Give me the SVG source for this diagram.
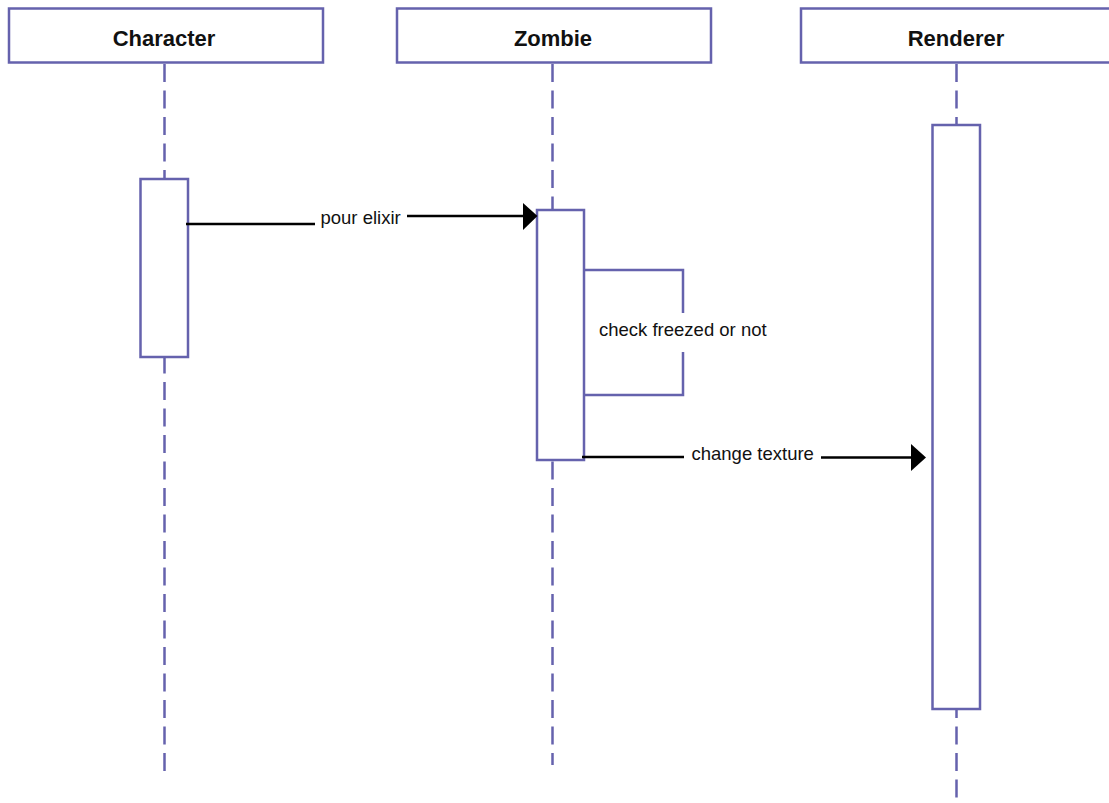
<svg xmlns="http://www.w3.org/2000/svg" width="1109" height="803" viewBox="0 0 1109 803">
  <style>
    .head { fill: #ffffff; stroke: #6562ad; stroke-width: 2.5; }
    .life { fill: none; stroke: #6562ad; stroke-width: 2.5; stroke-dasharray: 18 8.5; }
    .act { fill: #ffffff; stroke: #6562ad; stroke-width: 2.5; }
    .self { fill: none; stroke: #6562ad; stroke-width: 2.5; }
    .msg { fill: none; stroke: #000000; stroke-width: 2.5; }
    .tip { fill: #000000; }
    .title { font-family: "Liberation Sans", Arial, sans-serif; font-weight: bold; font-size: 22px; fill: #111111; text-anchor: middle; }
    .label { font-family: "Liberation Sans", Arial, sans-serif; font-size: 18.5px; fill: #111111; }
  </style>
  <rect width="1109" height="803" fill="#ffffff"/>

  <!-- lifelines -->
  <g id="lifelines">
    <line class="life" x1="164.5" y1="64" x2="164.5" y2="777"/>
    <line class="life" x1="552.5" y1="64" x2="552.5" y2="765"/>
    <line class="life" x1="956.5" y1="64" x2="956.5" y2="803"/>
  </g>

  <!-- participants -->
  <g id="character">
    <rect class="head" x="9" y="8.5" width="314" height="54"/>
    <text class="title" x="164" y="46">Character</text>
    <rect class="act" x="140.5" y="179" width="47.5" height="178"/>
  </g>
  <g id="zombie">
    <rect class="head" x="397" y="8.5" width="314" height="54"/>
    <text class="title" x="553" y="46">Zombie</text>
    <rect class="act" x="537" y="210" width="47" height="250"/>
  </g>
  <g id="renderer">
    <rect class="head" x="801" y="8.5" width="314" height="54"/>
    <text class="title" x="956" y="46">Renderer</text>
    <rect class="act" x="932.5" y="125" width="47.5" height="584"/>
  </g>

  <!-- messages -->
  <g id="connectors">
    <!-- pour elixir -->
    <line class="msg" x1="186" y1="224" x2="315" y2="224"/>
    <line class="msg" x1="407" y1="216" x2="524" y2="216"/>
    <polygon class="tip" points="523,203 537.5,216 523,230"/>
    <text class="label" x="320.5" y="224">pour elixir</text>

    <!-- check freezed or not (self call) -->
    <polyline class="self" points="584,270 683,270 683,313"/>
    <polyline class="self" points="683,352 683,395 584,395"/>
    <text class="label" x="599" y="336">check freezed or not</text>

    <!-- change texture -->
    <line class="msg" x1="582" y1="457" x2="684" y2="457"/>
    <line class="msg" x1="821" y1="457.5" x2="912" y2="457.5"/>
    <polygon class="tip" points="911,444 926,457.5 911,471"/>
    <text class="label" x="691.5" y="460">change texture</text>
  </g>
</svg>
